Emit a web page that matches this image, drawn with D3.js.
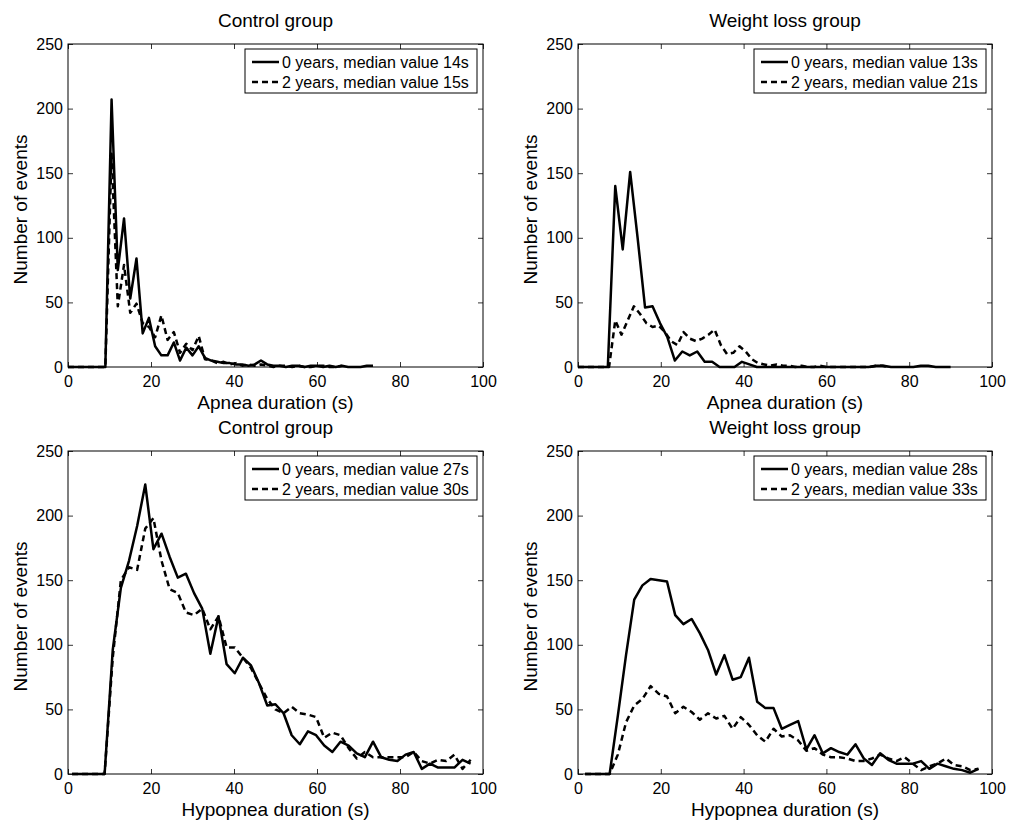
<!DOCTYPE html>
<html>
<head>
<meta charset="utf-8">
<script src="https://cdn.jsdelivr.net/npm/d3@7"></script>
<style>
  body { margin: 0; background: #fff; }
  svg { display: block; }
  text { font-family: "Liberation Sans", Arial, sans-serif; fill: #000; }
</style>
</head>
<body>
<div id="chart"></div>
<script>
// Histogram counts (one value per bin, bins start at binStart, spaced binStep seconds)
const apneaControl0 = [0,0,0,0,0,0,0, 207,75,115,53,84, 26,38,16,9,9, 19,5,15,9,16, 7,5,4,3,3, 2,2,1,2,5, 2,1,1,0,1, 1,0,1,1,0, 1,0,1,0,0, 0,1,1];
const apneaControl2 = [0,0,0,0,0,0,0, 165,47,79,42,49, 34,31,23,40,21, 27,11,18,13,24, 6,5,3,4,2, 3,1,2,1,2, 1,0,1,1,0, 1,0,0,1,1, 0,0,1];
const apneaWeight0 = [0,0,0,0,0, 140,91,151,100,46, 47,34,23,5,12, 9,12,4,4,0, 0,0,4,2,0, 0,0,0,0,0, 0,0,0,0,0, 0,0,0,0,0, 1,1,0,0,0, 0,1,1,0,0, 0];
const apneaWeight2 = [0,0,0,0,0,0, 36,25,36,47,41, 34,31,32,27,20, 17,27,22,20,22, 25,29,17,10,11, 16,12,6,3,2, 1,2,1,1,0, 1,0,0,1,0, 0,0,0,0,0, 0,0,1,1,0];
const hypoControl0 = [0,0,0,0,0, 96,144,165,192,224, 174,186,168,152,155, 140,128,93,122,85, 78,90,84,70,53, 54,47,30,23,33, 30,22,17,25,22, 16,13,25,13,11, 10,15,17,4,8, 5,5,5,11,8];
const hypoControl2 = [0,0,0,0,0, 90,150,160,158,190, 198,165,143,140,125, 123,128,112,122,98, 98,90,82,70,58, 50,47,52,47,46, 44,28,32,30,20, 12,17,13,13,13, 13,13,17,10,8, 11,10,15,4,11];
const hypoWeight0 = [0,0,0,0,45, 92,135,146,151,150, 149,123,116,120,109, 96,77,92,73,75, 90,56,51,51,35, 38,41,19,30,16, 20,17,15,23,12, 7,16,11,8,8, 8,10,4,8,6, 4,3,1,4];
const hypoWeight2 = [0,0,0,0,15, 40,53,58,68,62, 60,47,52,48,42, 47,43,45,35,44, 38,30,25,35,29, 30,26,18,20,15, 13,13,12,10,10, 12,15,12,10,13, 8,3,6,8,12, 7,6,3,4];

// bin layout of each series: [binStart, binStep]
const bins = {
  apneaControl0: [0, 1.5], apneaControl2: [0, 1.5],
  apneaWeight0: [0, 1.8], apneaWeight2: [0, 1.5],
  hypoControl0: [0.98, 1.96], hypoControl2: [0.98, 1.96],
  hypoWeight0: [1.7, 1.98], hypoWeight2: [1.7, 1.98]
};

const xTicks = [0, 20, 40, 60, 80, 100];
const yTicks = [0, 50, 100, 150, 200, 250];
const titles = ["Control group", "Weight loss group", "Control group", "Weight loss group"];
const xLabels = ["Apnea duration (s)", "Apnea duration (s)", "Hypopnea duration (s)", "Hypopnea duration (s)"];
const legendTexts = [
  ["0 years, median value 14s", "2 years, median value 15s"],
  ["0 years, median value 13s", "2 years, median value 21s"],
  ["0 years, median value 27s", "2 years, median value 30s"],
  ["0 years, median value 28s", "2 years, median value 33s"]
];

const panels = [
  { box: [68, 483, 44, 367], series: [["apneaControl0", apneaControl0], ["apneaControl2", apneaControl2]] },
  { box: [578, 992, 44, 367], series: [["apneaWeight0", apneaWeight0], ["apneaWeight2", apneaWeight2]] },
  { box: [68, 483, 451, 774], series: [["hypoControl0", hypoControl0], ["hypoControl2", hypoControl2]] },
  { box: [578, 992, 451, 774], series: [["hypoWeight0", hypoWeight0], ["hypoWeight2", hypoWeight2]] }
];

const svg = d3.select("#chart").append("svg")
    .attr("width", 1013)
    .attr("height", 823);

const dashes = [null, "6,4"];

function drawPanel(p, i) {
  const [left, right, top, bottom] = p.box;
  const x = d3.scaleLinear().domain([0, 100]).range([left, right]);
  const y = d3.scaleLinear().domain([0, 250]).range([bottom, top]);
  const g = svg.append("g");

  // inward ticks on all four sides, matlab style
  const styleAxis = sel => {
    sel.select(".domain").remove();
    sel.selectAll("line").attr("stroke", "#000").attr("stroke-width", 0.8);
    sel.selectAll("text").attr("font-size", 16).attr("font-family", "Liberation Sans, Arial, sans-serif").attr("fill", "#111");
  };
  g.append("g").attr("transform", `translate(0,${bottom})`)
    .call(d3.axisBottom(x).tickValues(xTicks).tickSizeInner(-5).tickSizeOuter(0).tickPadding(9))
    .call(styleAxis);
  g.append("g").attr("transform", `translate(0,${top})`)
    .call(d3.axisTop(x).tickValues(xTicks).tickSizeInner(-5).tickSizeOuter(0).tickFormat(""))
    .call(styleAxis);
  g.append("g").attr("transform", `translate(${left},0)`)
    .call(d3.axisLeft(y).tickValues(yTicks).tickSizeInner(-5).tickSizeOuter(0).tickPadding(5))
    .call(styleAxis);
  g.append("g").attr("transform", `translate(${right},0)`)
    .call(d3.axisRight(y).tickValues(yTicks).tickSizeInner(-5).tickSizeOuter(0).tickFormat(""))
    .call(styleAxis);

  // data lines
  const line = d3.line().x(d => x(d[0])).y(d => y(d[1]));
  p.series.forEach(([name, values], j) => {
    const [start, step] = bins[name];
    const pts = values.map((v, k) => [start + k * step, v]);
    g.append("path")
      .datum(pts)
      .attr("d", line)
      .attr("fill", "none")
      .attr("stroke", "#000")
      .attr("stroke-width", 2.5)
      .attr("stroke-linejoin", "round")
      .attr("stroke-dasharray", dashes[j]);
  });

  // frame
  g.append("rect")
    .attr("x", left).attr("y", top)
    .attr("width", right - left).attr("height", bottom - top)
    .attr("fill", "none").attr("stroke", "#000").attr("stroke-width", 1);

  // legend
  const lw = 232, lh = 44;
  const lx = right - 6 - lw, ly = top + 5;
  const leg = g.append("g");
  leg.append("rect")
    .attr("x", lx).attr("y", ly).attr("width", lw).attr("height", lh)
    .attr("fill", "#fff").attr("stroke", "#000").attr("stroke-width", 1);
  legendTexts[i].forEach((t, j) => {
    const cy = ly + 13 + j * 20;
    leg.append("line")
      .attr("x1", lx + 7).attr("x2", lx + 34)
      .attr("y1", cy).attr("y2", cy)
      .attr("stroke", "#000").attr("stroke-width", 2.5)
      .attr("stroke-dasharray", dashes[j]);
    leg.append("text")
      .attr("x", lx + 37).attr("y", cy + 6)
      .attr("font-size", 16)
      .text(t);
  });

  // titles and labels
  g.append("text")
    .attr("x", (left + right) / 2).attr("y", top - 17)
    .attr("text-anchor", "middle").attr("font-size", 19)
    .text(titles[i]);
  g.append("text")
    .attr("x", (left + right) / 2).attr("y", bottom + 42)
    .attr("text-anchor", "middle").attr("font-size", 19)
    .text(xLabels[i]);
  g.append("text")
    .attr("transform", `translate(${left - 41},${(top + bottom) / 2 + 4}) rotate(-90)`)
    .attr("text-anchor", "middle").attr("font-size", 19)
    .text("Number of events");
}

panels.forEach(drawPanel);
</script>
</body>
</html>
